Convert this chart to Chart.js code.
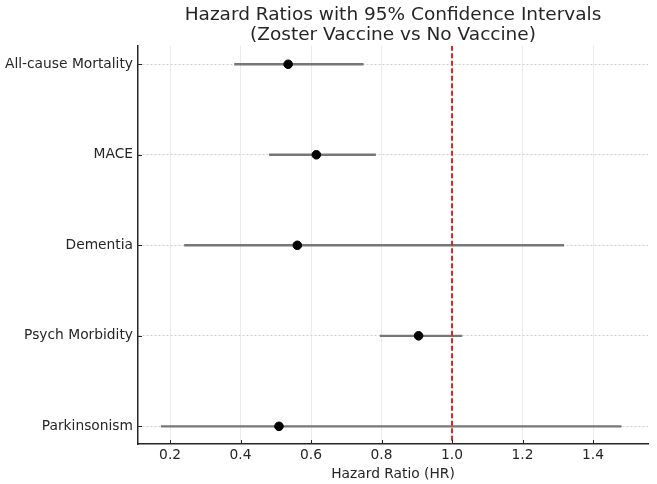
<!DOCTYPE html>
<html><head><meta charset="utf-8">
<script src="https://cdn.jsdelivr.net/npm/chart.js@4.4.1/dist/chart.umd.min.js"></script>
<style>html,body{margin:0;padding:0;background:#fff}#wrap{width:657px;height:484px}</style>
</head><body><div id="wrap"><canvas id="c" width="657" height="484"></canvas></div>
<script>
const categories = ["All-cause Mortality", "MACE", "Dementia", "Psych Morbidity", "Parkinsonism"];
const hr = [0.535, 0.615, 0.561, 0.905, 0.509];
const lower = [0.382, 0.481, 0.240, 0.795, 0.174];
const upper = [0.749, 0.784, 1.318, 1.029, 1.481];
const xTicks = [0.2, 0.4, 0.6, 0.8, 1.0, 1.2, 1.4];
const refValue = 1.0;

const FONT = "'DejaVu Sans', sans-serif";
const TXT = '#262626';
const datasets = [];
categories.forEach((c, i) => {
  datasets.push({
    type: 'line',
    data: [{x: lower[i], y: i}, {x: upper[i], y: i}],
    borderColor: '#777777', borderWidth: 2.4, pointRadius: 0, order: 3
  });
});
datasets.push({
  type: 'line',
  data: [{x: refValue, y: -0.205}, {x: refValue, y: 4.195}],
  borderColor: '#d62728', borderWidth: 2, borderDash: [5, 2.5], pointRadius: 0, order: 2
});
datasets.push({
  type: 'scatter',
  data: hr.map((v, i) => ({x: v, y: i})),
  backgroundColor: '#000', borderColor: '#000', pointRadius: 4.3, order: 1
});

// inward tick marks (matplotlib "direction: in" style)
const inTicks = {
  id: 'inTicks',
  afterDraw(chart) {
    const {ctx, chartArea: a, scales: {x, y}} = chart;
    ctx.save();
    ctx.strokeStyle = TXT; ctx.lineWidth = 1;
    ctx.beginPath();
    x.ticks.forEach(t => { const px = Math.round(x.getPixelForValue(t.value)) + 0.5; ctx.moveTo(px, a.bottom); ctx.lineTo(px, a.bottom - 4); });
    y.ticks.forEach(t => { const py = Math.round(y.getPixelForValue(t.value)) + 0.5; ctx.moveTo(a.left, py); ctx.lineTo(a.left + 4, py); });
    ctx.stroke();
    ctx.restore();
  }
};

new Chart(document.getElementById('c'), {
  type: 'scatter',
  data: {datasets},
  plugins: [inTicks],
  options: {
    responsive: false, animation: false,
    layout: {padding: {left: 0, right: 9, top: 0, bottom: 0}},
    plugins: {
      legend: {display: false}, tooltip: {enabled: false},
      title: {
        display: true, fullSize: false,
        text: ['Hazard Ratios with 95% Confidence Intervals', '(Zoster Vaccine vs No Vaccine)'],
        color: TXT, font: {family: FONT, size: 18.5, weight: 'normal', lineHeight: 1.1},
        padding: {top: 5, bottom: 0}
      }
    },
    scales: {
      x: {
        type: 'linear', min: 0.109, max: 1.556,
        afterBuildTicks: s => { s.ticks = xTicks.map(v => ({value: v})); },
        afterFit: s => { s.height = 40; },
        ticks: {color: TXT, font: {family: FONT, size: 13.8}, padding: 3, callback: v => v.toFixed(1), maxRotation: 0},
        grid: {color: '#ececec', lineWidth: 1, drawTicks: false},
        border: {color: TXT, width: 1.5},
        title: {display: true, text: 'Hazard Ratio (HR)', color: TXT, font: {family: FONT, size: 13.8}, padding: {top: 0, bottom: 1.5}}
      },
      y: {
        type: 'linear', min: -0.205, max: 4.195, reverse: true,
        afterBuildTicks: s => { s.ticks = categories.map((c, i) => ({value: i})); },
        afterFit: s => { s.width = 138; },
        ticks: {color: TXT, font: {family: FONT, size: 13.8}, padding: 5, callback: v => categories[v]},
        grid: {color: '#cfcfcf', lineWidth: 1, drawTicks: false},
        border: {color: TXT, width: 1.5, dash: [2, 2]}
      }
    }
  }
});
</script></body></html>
